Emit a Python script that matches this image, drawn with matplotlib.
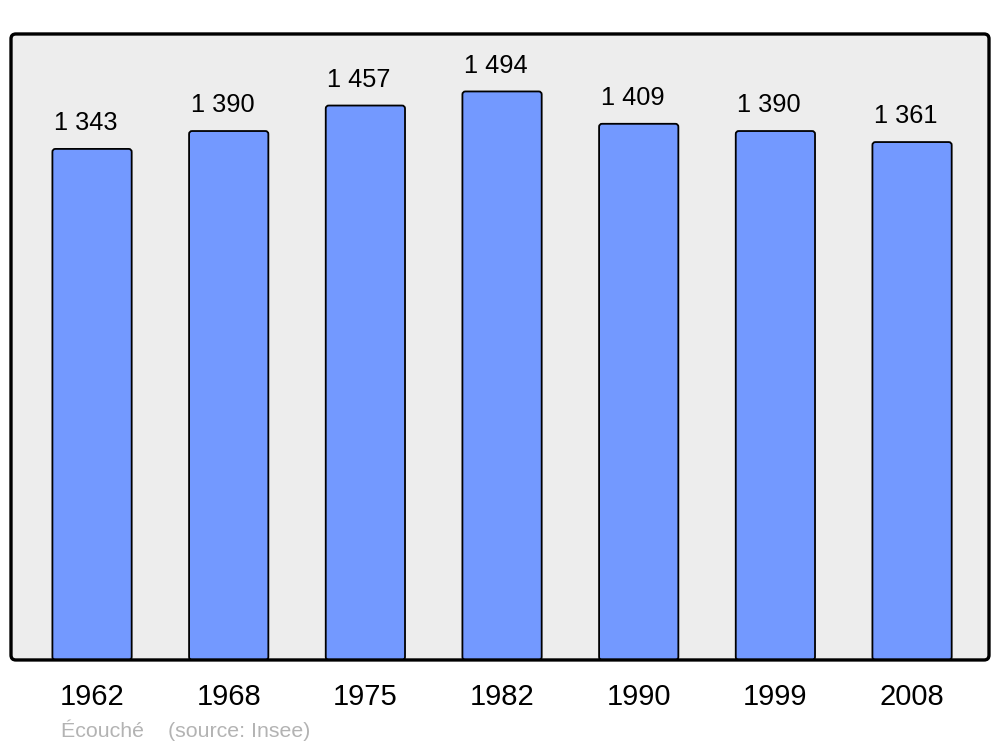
import matplotlib
matplotlib.use("Agg")
import matplotlib.pyplot as plt
from matplotlib.patches import FancyBboxPatch

# Population d'Écouché (source: Insee)
annees = ['1962', '1968', '1975', '1982', '1990', '1999', '2008']
population = [1343, 1390, 1457, 1494, 1409, 1390, 1361]

plt.rcParams['font.family'] = ['Liberation Sans', 'DejaVu Sans']

fig = plt.figure(figsize=(10, 7.47), dpi=100)
ax = fig.add_axes([0.011, 0.1165, 0.978, 0.838])
ax.set_facecolor('none')

x = list(range(len(annees)))
barres = ax.bar(x, population, width=0.58, color='#7399ff', edgecolor='black',
                linewidth=1.3, zorder=2)

ax.set_xlim(-0.593, 6.563)
ax.set_ylim(0, 1645)

# coins arrondis pour les barres
for r in barres:
    r.set_visible(False)
    ax.add_patch(FancyBboxPatch((r.get_x(), r.get_y()), r.get_width(), r.get_height(),
                                boxstyle='round,pad=0,rounding_size=0.022',
                                mutation_aspect=360, facecolor='#7399ff',
                                edgecolor='black', linewidth=1.3, zorder=2))

# cadre arrondi
ax.add_patch(FancyBboxPatch((0, 0), 1, 1, transform=ax.transAxes,
                            boxstyle='round,pad=0,rounding_size=0.005',
                            mutation_aspect=1.56, facecolor='#ededed',
                            edgecolor='none', zorder=0, clip_on=False))
ax.add_patch(FancyBboxPatch((0, 0), 1, 1, transform=ax.transAxes,
                            boxstyle='round,pad=0,rounding_size=0.005',
                            mutation_aspect=1.56, facecolor='none',
                            edgecolor='black', linewidth=2.4, zorder=3, clip_on=False))

# étiquettes des valeurs (séparateur de milliers = espace)
for xi, val in zip(x, population):
    txt = f"{val:,}".replace(',', ' ')
    ax.annotate(txt, (xi, val), xytext=(-4.5, 10), textcoords='offset points',
                ha='center', va='bottom', fontsize=18.3, color='black')

ax.set_xticks(x)
ax.set_xticklabels(annees, fontsize=21)
ax.tick_params(axis='x', length=0, pad=16.5)
ax.set_yticks([])

for sp in ax.spines.values():
    sp.set_visible(False)

fig.text(0.061, 0.013, "Écouché    (source: Insee)", fontsize=15.4,
         color='#b3b3b3', ha='left', va='baseline')

fig.savefig('out.png', dpi=100)
